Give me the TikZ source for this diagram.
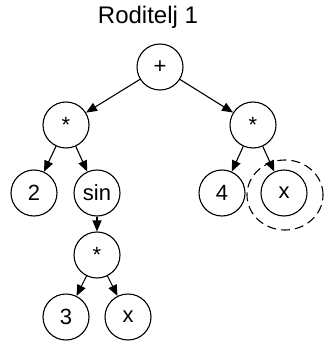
\documentclass[tikz,border=0pt]{standalone}
\usepackage{fontspec}
\setmainfont{Liberation Sans}
\usetikzlibrary{arrows.meta,shapes.geometric}
\begin{document}
\begin{tikzpicture}[x=1pt,y=-1pt,
  treenode/.style={circle,draw,line width=1.1pt,minimum size=46pt,inner sep=0pt,
    font=\fontsize{22}{26}\selectfont},
  link/.style={line width=1.1pt,-{Triangle[length=11pt,width=9pt]}},
  mark ring/.style={ellipse,draw,line width=1.1pt,dash pattern=on 9pt off 5pt,
    minimum width=76pt,minimum height=70pt,inner sep=0pt}]
  \useasboundingbox (0,0) rectangle (334,347);
  \node[font=\fontsize{24}{28}\selectfont] (title) at (148,17) {Roditelj 1};
  \node[treenode] (root) at (160,67) {+};
  \node[treenode] (lm) at (66,125) {*};
  \node[treenode] (rm) at (253,125) {*};
  \node[treenode] (two) at (34,193) {2};
  \node[treenode] (sin) at (97,193) {sin};
  \node[treenode] (four) at (222,193) {4};
  \node[treenode] (xa) at (284,193) {x};
  \node[treenode] (mm) at (97,255) {*};
  \node[treenode] (three) at (66,317) {3};
  \node[treenode] (xb) at (128,317) {x};
  \node[mark ring] (ring) at (285,195) {};
  \draw[link] (root) -- (lm);
  \draw[link] (root) -- (rm);
  \draw[link] (lm) -- (two);
  \draw[link] (lm) -- (sin);
  \draw[link] (rm) -- (four);
  \draw[link] (rm) -- (xa);
  \draw[link] (sin) -- (mm);
  \draw[link] (mm) -- (three);
  \draw[link] (mm) -- (xb);
\end{tikzpicture}
\end{document}
